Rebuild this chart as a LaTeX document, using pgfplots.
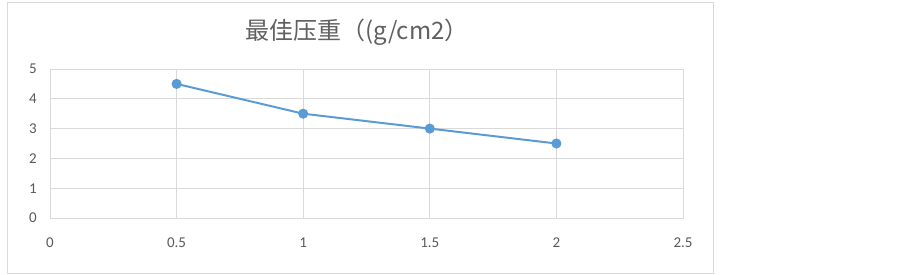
\documentclass[border=0pt]{standalone}
\usepackage{fontspec}
\setmainfont{Carlito}
\newfontfamily\cjk{Noto Sans CJK SC}
\usepackage{pgfplots}
\pgfplotsset{compat=1.18}
\definecolor{txt}{HTML}{595959}
\definecolor{ttl}{HTML}{606060}
\definecolor{gridc}{HTML}{D9D9D9}
\definecolor{frame}{HTML}{D9D9D9}
\definecolor{ser}{HTML}{5B9BD5}
\begin{document}
\begin{tikzpicture}
\path (0,0) rectangle (903pt,275pt);
\draw[frame, line width=0.8pt] (7.5pt,2pt) rectangle (713pt,273pt);
\node[ttl, font=\fontsize{24}{27}\selectfont\cjk] at (357pt,243pt) {最佳压重（(g/cm2）};
\begin{axis}[
  at={(50pt,57pt)}, anchor=south west,
  scale only axis, width=633pt, height=149pt,
  xmin=0, xmax=2.5, ymin=0, ymax=5,
  xtick={0,0.5,...,2.5}, ytick={0,1,...,5},
  xticklabels={0,0.5,1,1.5,2,2.5},
  grid=major, major grid style={gridc, line width=0.8pt},
  axis line style={gridc, line width=0.8pt},
  tick style={draw=none},
  /pgf/number format/assume math mode=true,
  ticklabel style={txt, font=\fontsize{15}{18}\selectfont},
  yticklabel style={anchor=east, inner sep=0pt, xshift=-13pt},
  xticklabel style={anchor=north, inner sep=0pt, yshift=-20pt},
]
\addplot[ser, line width=2pt, mark=*, mark size=4pt, mark options={fill=ser, draw=ser}]
  coordinates {(0.5,4.5) (1,3.5) (1.5,3) (2,2.5)};
\end{axis}
\end{tikzpicture}
\end{document}
